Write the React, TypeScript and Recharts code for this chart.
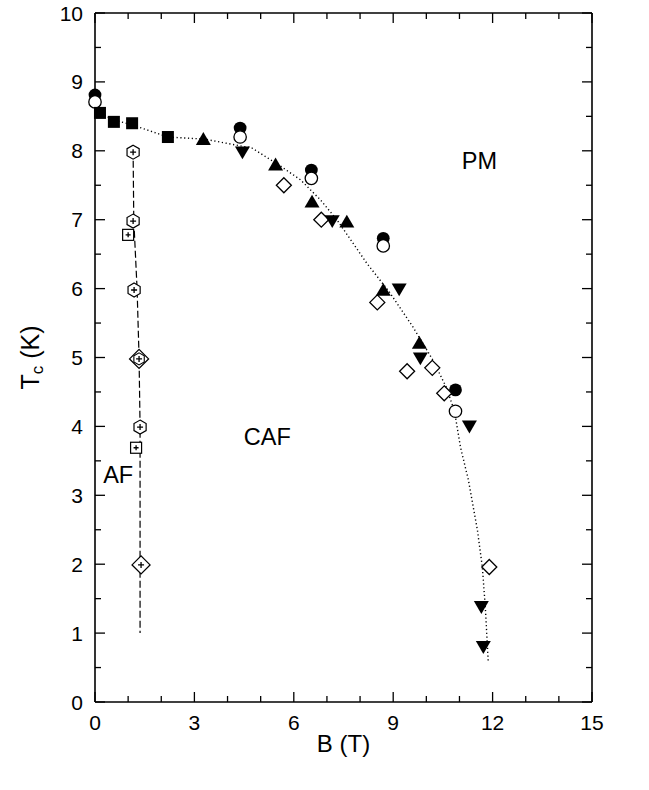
import React from 'react';
import { ScatterChart, Scatter, XAxis, YAxis, ReferenceDot, Label } from 'recharts';

// values (B in T on the drawn axis, Tc in K)
const filledCircles = [
  { x: 0, y: 8.81 },
  { x: 4.38, y: 8.33 },
  { x: 6.53, y: 7.72 },
  { x: 8.7, y: 6.73 },
  { x: 10.88, y: 4.53 },
];
const openCircles = [
  { x: 0, y: 8.71 },
  { x: 4.38, y: 8.2 },
  { x: 6.53, y: 7.6 },
  { x: 8.7, y: 6.62 },
  { x: 10.88, y: 4.22 },
];
const filledSquares = [
  { x: 0.15, y: 8.55 },
  { x: 0.57, y: 8.42 },
  { x: 1.12, y: 8.4 },
  { x: 2.2, y: 8.2 },
];
const upTriangles = [
  { x: 3.27, y: 8.17 },
  { x: 5.45, y: 7.8 },
  { x: 6.55, y: 7.26 },
  { x: 7.6, y: 6.97 },
  { x: 8.7, y: 5.98 },
  { x: 9.79, y: 5.21 },
];
const downTriangles = [
  { x: 4.45, y: 7.98 },
  { x: 7.16, y: 6.98 },
  { x: 9.18, y: 5.99 },
  { x: 9.82, y: 4.99 },
  { x: 11.3, y: 4.0 },
  { x: 11.66, y: 1.38 },
  { x: 11.72, y: 0.8 },
];
const openDiamonds = [
  { x: 5.7, y: 7.5 },
  { x: 6.83, y: 7.0 },
  { x: 8.52, y: 5.8 },
  { x: 9.42, y: 4.8 },
  { x: 10.18, y: 4.85 },
  { x: 10.54, y: 4.48 },
  { x: 11.9, y: 1.96 },
];

// AF boundary points
const hexPlus = [
  { x: 1.15, y: 7.98 },
  { x: 1.15, y: 6.98 },
  { x: 1.18, y: 5.98 },
  { x: 1.36, y: 3.99 },
];
const squarePlus = [
  { x: 1.0, y: 6.78 },
  { x: 1.24, y: 3.69 },
];
const diamondHexPlus = [{ x: 1.33, y: 4.98 }];
const diamondPlus = [{ x: 1.39, y: 1.99 }];

// guide lines
const pmBoundary = [
  { x: 0, y: 8.68 }, { x: 0.15, y: 8.55 }, { x: 0.55, y: 8.45 }, { x: 1.1, y: 8.38 },
  { x: 2.2, y: 8.2 }, { x: 3.3, y: 8.17 }, { x: 4.74, y: 8.04 }, { x: 5.56, y: 7.79 },
  { x: 6.2, y: 7.58 }, { x: 6.8, y: 7.29 }, { x: 7.3, y: 7.0 }, { x: 8.2, y: 6.37 },
  { x: 8.9, y: 5.94 }, { x: 9.6, y: 5.44 }, { x: 10.2, y: 4.96 }, { x: 10.6, y: 4.57 },
  { x: 10.85, y: 4.22 }, { x: 11.03, y: 3.7 }, { x: 11.27, y: 3.22 }, { x: 11.54, y: 2.5 },
  { x: 11.69, y: 1.96 }, { x: 11.78, y: 1.38 }, { x: 11.87, y: 0.57 },
];
const afBoundary = [
  { x: 1.15, y: 8.0 }, { x: 1.17, y: 7.0 }, { x: 1.22, y: 6.5 }, { x: 1.27, y: 6.0 },
  { x: 1.33, y: 5.0 }, { x: 1.36, y: 4.0 }, { x: 1.36, y: 1.0 },
];

const xTicks = [0, 1, 2, 3, 4, 5, 6, 7, 8, 9, 10, 11, 12, 13, 14, 15];
const xLabels = [0, 3, 6, 9, 12, 15];
const yTicks = [0, 0.5, 1, 1.5, 2, 2.5, 3, 3.5, 4, 4.5, 5, 5.5, 6, 6.5, 7, 7.5, 8, 8.5, 9, 9.5, 10];

const phaseLabels = [
  { x: 11.6, y: 7.85, text: 'PM' },
  { x: 5.2, y: 3.85, text: 'CAF' },
  { x: 0.7, y: 3.3, text: 'AF' },
];

const FONT = '"Liberation Sans", Arial, sans-serif';
const INK = '#000000';
const TICK_OFFSET = 0.01; // tiny tickSize so the tick coordinate sits on the axis line

const BottomTick = ({ x, y, payload }: any) => {
  const major = xLabels.includes(payload.value);
  const y0 = y - TICK_OFFSET;
  return (
    <g>
      <line x1={x} x2={x} y1={y0} y2={y0 - (major ? 10 : 6)} stroke={INK} strokeWidth={1.3} />
      {major && (
        <text x={x} y={y0 + 28} textAnchor="middle" fontFamily={FONT} fontSize={21} fill={INK}>
          {payload.value}
        </text>
      )}
    </g>
  );
};
const TopTick = ({ x, y, payload }: any) => {
  const major = xLabels.includes(payload.value);
  const y0 = y + TICK_OFFSET;
  return <line x1={x} x2={x} y1={y0} y2={y0 + (major ? 10 : 6)} stroke={INK} strokeWidth={1.3} />;
};
const LeftTick = ({ x, y, payload }: any) => {
  const major = Number.isInteger(payload.value);
  const x0 = x + TICK_OFFSET;
  return (
    <g>
      <line x1={x0} x2={x0 + (major ? 10 : 6)} y1={y} y2={y} stroke={INK} strokeWidth={1.3} />
      {major && (
        <text x={x0 - 12} y={y + 7.5} textAnchor="end" fontFamily={FONT} fontSize={21} fill={INK}>
          {payload.value}
        </text>
      )}
    </g>
  );
};
const RightTick = ({ x, y, payload }: any) => {
  const major = Number.isInteger(payload.value);
  const x0 = x - TICK_OFFSET;
  return <line x1={x0} x2={x0 - (major ? 10 : 6)} y1={y} y2={y} stroke={INK} strokeWidth={1.3} />;
};

// marker shapes
const FilledCircle = ({ cx, cy }: any) => <circle cx={cx} cy={cy} r={6.4} fill={INK} />;
const OpenCircle = ({ cx, cy }: any) => (
  <circle cx={cx} cy={cy} r={6.2} fill="#fff" stroke={INK} strokeWidth={1.3} />
);
const FilledSquare = ({ cx, cy }: any) => <rect x={cx - 6} y={cy - 6} width={12} height={12} fill={INK} />;
const UpTriangle = ({ cx, cy }: any) => (
  <polygon points={`${cx - 7.5},${cy + 5.8} ${cx + 7.5},${cy + 5.8} ${cx},${cy - 7}`} fill={INK} />
);
const DownTriangle = ({ cx, cy }: any) => (
  <polygon points={`${cx - 7.5},${cy - 5.8} ${cx + 7.5},${cy - 5.8} ${cx},${cy + 7}`} fill={INK} />
);
const OpenDiamond = ({ cx, cy }: any) => (
  <polygon
    points={`${cx},${cy - 7.5} ${cx + 7.5},${cy} ${cx},${cy + 7.5} ${cx - 7.5},${cy}`}
    fill="#fff"
    stroke={INK}
    strokeWidth={1.3}
  />
);
const Plus = ({ cx, cy, s }: any) => (
  <path d={`M${cx - s},${cy} H${cx + s} M${cx},${cy - s} V${cy + s}`} stroke={INK} strokeWidth={1.3} />
);
const hexPoints = (cx: number, cy: number, r: number) =>
  [0, 1, 2, 3, 4, 5]
    .map((i) => {
      const a = (Math.PI / 3) * i - Math.PI / 2;
      return `${cx + r * Math.cos(a)},${cy + r * Math.sin(a)}`;
    })
    .join(' ');
const HexPlus = ({ cx, cy }: any) => (
  <g>
    <polygon points={hexPoints(cx, cy, 7)} fill="#fff" stroke={INK} strokeWidth={1.2} />
    <Plus cx={cx} cy={cy} s={3} />
  </g>
);
const SquarePlus = ({ cx, cy }: any) => (
  <g>
    <rect x={cx - 5.5} y={cy - 5.5} width={11} height={11} fill="#fff" stroke={INK} strokeWidth={1.2} />
    <Plus cx={cx} cy={cy} s={2.5} />
  </g>
);
const DiamondPlus = ({ cx, cy }: any) => (
  <g>
    <polygon
      points={`${cx},${cy - 9} ${cx + 9},${cy} ${cx},${cy + 9} ${cx - 9},${cy}`}
      fill="#fff"
      stroke={INK}
      strokeWidth={1.3}
    />
    <Plus cx={cx} cy={cy} s={3} />
  </g>
);
const DiamondHexPlus = ({ cx, cy }: any) => (
  <g>
    <polygon
      points={`${cx},${cy - 9.5} ${cx + 9.5},${cy} ${cx},${cy + 9.5} ${cx - 9.5},${cy}`}
      fill="#fff"
      stroke={INK}
      strokeWidth={1.3}
    />
    <polygon points={hexPoints(cx, cy, 6)} fill="none" stroke={INK} strokeWidth={1.1} />
    <Plus cx={cx} cy={cy} s={3} />
  </g>
);
const NoShape = () => <g />;

const YTitle = ({ viewBox }: any) => {
  const cx = viewBox.x + 10;
  const cy = viewBox.y + viewBox.height / 2;
  return (
    <text
      x={cx}
      y={cy}
      transform={`rotate(-90, ${cx}, ${cy})`}
      textAnchor="middle"
      dominantBaseline="central"
      fontFamily={FONT}
      fontSize={25}
      fill={INK}
    >
      T<tspan dy={7} fontSize={17}>c</tspan>
      <tspan dy={-7}> (K)</tspan>
    </text>
  );
};

export default function App() {
  return (
    <div style={{ position: 'absolute', left: 0, top: 0, width: 649, height: 790, background: '#fff' }}>
      <ScatterChart width={649} height={790} margin={{ top: 12, right: 56, left: 20, bottom: 38 }}>
        <XAxis
          xAxisId={0}
          dataKey="x"
          type="number"
          domain={[0, 15]}
          ticks={xTicks}
          interval={0}
          tickSize={TICK_OFFSET}
          tickMargin={0}
          tick={<BottomTick />}
          tickLine={false}
          axisLine={{ stroke: INK, strokeWidth: 1.6 }}
          height={50}
        >
          <Label value="B (T)" position="insideBottom" offset={0} fontFamily={FONT} fontSize={24} fill={INK} />
        </XAxis>
        <XAxis
          xAxisId="top"
          orientation="top"
          dataKey="x"
          type="number"
          domain={[0, 15]}
          ticks={xTicks}
          interval={0}
          tickSize={TICK_OFFSET}
          tickMargin={0}
          tick={<TopTick />}
          tickLine={false}
          axisLine={{ stroke: INK, strokeWidth: 1.6 }}
          height={1}
        />
        <YAxis
          yAxisId={0}
          dataKey="y"
          type="number"
          domain={[0, 10]}
          ticks={yTicks}
          interval={0}
          tickSize={TICK_OFFSET}
          tickMargin={0}
          tick={<LeftTick />}
          tickLine={false}
          axisLine={{ stroke: INK, strokeWidth: 1.6 }}
          width={75}
        >
          <Label content={<YTitle />} />
        </YAxis>
        <YAxis
          yAxisId="right"
          orientation="right"
          dataKey="y"
          type="number"
          domain={[0, 10]}
          ticks={yTicks}
          interval={0}
          tickSize={TICK_OFFSET}
          tickMargin={0}
          tick={<RightTick />}
          tickLine={false}
          axisLine={{ stroke: INK, strokeWidth: 1.6 }}
          width={1}
        />

        {/* the PM boundary is tied to the top/right axes so that they are drawn too (same domains) */}
        <Scatter
          data={pmBoundary}
          xAxisId="top"
          yAxisId="right"
          line={{ stroke: INK, strokeWidth: 1.4, strokeDasharray: '1.2 2.6' }}
          lineType="joint"
          shape={<NoShape />}
          isAnimationActive={false}
        />
        <Scatter
          data={afBoundary}
          line={{ stroke: INK, strokeWidth: 1.2, strokeDasharray: '7 3' }}
          lineType="joint"
          shape={<NoShape />}
          isAnimationActive={false}
        />

        <Scatter data={filledCircles} shape={<FilledCircle />} isAnimationActive={false} />
        <Scatter data={openCircles} shape={<OpenCircle />} isAnimationActive={false} />
        <Scatter data={filledSquares} shape={<FilledSquare />} isAnimationActive={false} />
        <Scatter data={openDiamonds} shape={<OpenDiamond />} isAnimationActive={false} />
        <Scatter data={upTriangles} shape={<UpTriangle />} isAnimationActive={false} />
        <Scatter data={downTriangles} shape={<DownTriangle />} isAnimationActive={false} />
        <Scatter data={hexPlus} shape={<HexPlus />} isAnimationActive={false} />
        <Scatter data={squarePlus} shape={<SquarePlus />} isAnimationActive={false} />
        <Scatter data={diamondHexPlus} shape={<DiamondHexPlus />} isAnimationActive={false} />
        <Scatter data={diamondPlus} shape={<DiamondPlus />} isAnimationActive={false} />

        {phaseLabels.map((p) => (
          <ReferenceDot key={p.text} x={p.x} y={p.y} r={0} fill="none" stroke="none">
            <Label value={p.text} position="center" fontFamily={FONT} fontSize={23.5} fill={INK} />
          </ReferenceDot>
        ))}
      </ScatterChart>
    </div>
  );
}
